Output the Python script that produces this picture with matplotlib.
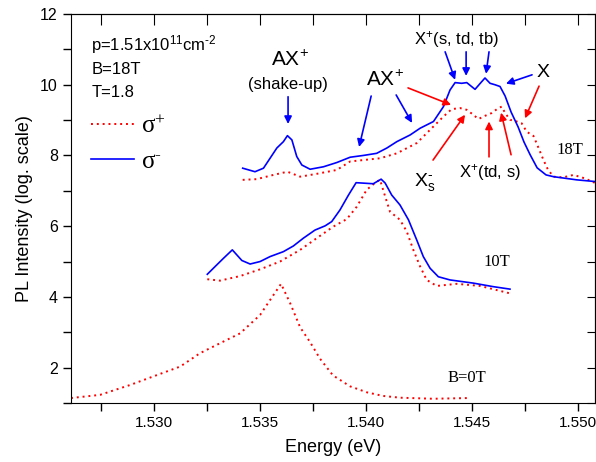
import numpy as np
import matplotlib
matplotlib.use('Agg')
import matplotlib.pyplot as plt
from matplotlib.ticker import MultipleLocator, FormatStrFormatter

plt.rcParams['font.family'] = ['Liberation Sans', 'DejaVu Sans']
plt.rcParams['mathtext.fontset'] = 'custom'
plt.rcParams['mathtext.rm'] = 'Liberation Sans'
plt.rcParams['mathtext.it'] = 'Liberation Sans'
plt.rcParams['mathtext.default'] = 'regular'

HY = '\u2010'  # short hyphen for superscripts

# B = 0 T, sigma+
b0_x = [1.52608, 1.52745, 1.52887, 1.53000, 1.53123, 1.53217, 1.53311, 1.53406,
        1.53500, 1.53547, 1.53599, 1.53642, 1.53689, 1.53736, 1.53783, 1.53844,
        1.53925, 1.54005, 1.54080, 1.54160, 1.54316, 1.54481]
b0_p = [1.14, 1.23, 1.51, 1.76, 2.03, 2.41, 2.69, 2.97,
        3.49, 3.91, 4.37, 3.82, 3.14, 2.72, 2.25, 1.78,
        1.47, 1.30, 1.20, 1.15, 1.12, 1.14]

# 10 T
b10_xm = [1.53251, 1.53288, 1.53327, 1.53369, 1.53390, 1.53414, 1.53453, 1.53500,
          1.53547, 1.53610, 1.53657, 1.53704, 1.53759, 1.53807, 1.53838, 1.53877,
          1.53917, 1.53953, 1.53980, 1.54034, 1.54071, 1.54090, 1.54121, 1.54160,
          1.54200, 1.54239, 1.54270, 1.54302, 1.54341, 1.54396, 1.54506, 1.54600,
          1.54679]
b10_m = [4.64, 4.86, 5.09, 5.33, 5.19, 5.03, 4.93, 5.00,
         5.14, 5.28, 5.44, 5.66, 5.89, 6.01, 6.13, 6.46,
         6.88, 7.23, 7.22, 7.20, 7.33, 7.22, 6.88, 6.60,
         6.18, 5.61, 5.14, 4.81, 4.57, 4.48, 4.39, 4.29,
         4.22]
b10_xp = [1.53251, 1.53311, 1.53406, 1.53500, 1.53594, 1.53689, 1.53767, 1.53846,
          1.53909, 1.53956, 1.54003, 1.54050, 1.54066, 1.54090, 1.54113, 1.54160,
          1.54192, 1.54223, 1.54255, 1.54286, 1.54333, 1.54428, 1.54538, 1.54679]
b10_p = [4.50, 4.46, 4.59, 4.78, 5.00, 5.33, 5.66, 5.99,
         6.20, 6.55, 7.03, 7.26, 7.31, 6.84, 6.41, 6.18,
         5.85, 5.33, 4.86, 4.48, 4.31, 4.37, 4.31, 4.10]

# 18 T
b18_xm = [1.53418, 1.53476, 1.53516, 1.53547, 1.53579, 1.53610, 1.53629, 1.53650,
          1.53673, 1.53697, 1.53736, 1.53799, 1.53862, 1.53925, 1.53987, 1.54050,
          1.54098, 1.54145, 1.54208, 1.54255, 1.54318, 1.54365, 1.54396, 1.54420,
          1.54451, 1.54475, 1.54514, 1.54546, 1.54561, 1.54585, 1.54608, 1.54632,
          1.54656, 1.54684, 1.54717, 1.54745, 1.54774, 1.54807, 1.54849, 1.54884,
          1.54994, 1.55085]
b18_m = [7.64, 7.54, 7.64, 7.92, 8.21, 8.39, 8.56, 8.44,
         7.97, 7.73, 7.61, 7.68, 7.80, 7.95, 8.00, 8.06,
         8.21, 8.39, 8.58, 8.77, 8.96, 9.38, 9.85, 10.06,
         10.04, 10.06, 9.87, 10.09, 10.19, 10.04, 10.00, 9.95,
         9.68, 9.23, 8.81, 8.38, 8.02, 7.65, 7.45, 7.40,
         7.31, 7.26]
b18_xp = [1.53418, 1.53484, 1.53563, 1.53629, 1.53689, 1.53767, 1.53862, 1.53925,
          1.53987, 1.54066, 1.54145, 1.54239, 1.54318, 1.54365, 1.54404, 1.54443,
          1.54475, 1.54506, 1.54530, 1.54561, 1.54593, 1.54624, 1.54640, 1.54656,
          1.54679, 1.54711, 1.54734, 1.54758, 1.54790, 1.54811, 1.54837, 1.54858,
          1.54884, 1.54929, 1.54979, 1.55033, 1.55085]
b18_p = [7.31, 7.33, 7.45, 7.54, 7.40, 7.48, 7.59, 7.83,
         7.87, 7.92, 8.06, 8.35, 8.82, 9.10, 9.31, 9.34,
         9.29, 9.15, 9.03, 9.12, 9.20, 9.34, 9.38, 9.20,
         9.01, 8.96, 8.91, 8.67, 8.55, 8.25, 7.87, 7.60,
         7.40, 7.38, 7.45, 7.35, 7.21]

red = '#ff0000'
blue = '#0000ff'

fig = plt.figure(figsize=(5.96, 4.62), dpi=100)
ax = fig.add_axes([71 / 596, 59 / 462, 524 / 596, 389 / 462])

dot = dict(color=red, linestyle=(0, (1, 2)), linewidth=1.4)
sol = dict(color=blue, linestyle='-', linewidth=1.2)

ax.plot(b0_x, b0_p, **dot)
ax.plot(b10_xp, b10_p, **dot)
ax.plot(b10_xm, b10_m, **sol)
lp, = ax.plot(b18_xp, b18_p, **dot)
lm, = ax.plot(b18_xm, b18_m, **sol)

ax.set_xlim(1.52608, 1.5508)
ax.set_ylim(1, 12)
ax.xaxis.set_major_locator(MultipleLocator(0.005))
ax.xaxis.set_minor_locator(MultipleLocator(0.0025))
ax.yaxis.set_major_locator(MultipleLocator(2))
ax.yaxis.set_minor_locator(MultipleLocator(1))
ax.xaxis.set_major_formatter(FormatStrFormatter('%.3f'))
ax.tick_params(which='both', direction='out', length=6, width=1, labelsize=11.5,
               top=False, right=False)
ax.tick_params(axis='x', labelsize=11)
ax2 = ax.secondary_xaxis('top')
ax2.xaxis.set_major_locator(MultipleLocator(0.0025))
ax2.tick_params(direction='in', length=8, labeltop=False)
ax3 = ax.secondary_yaxis('right')
ax3.yaxis.set_major_locator(MultipleLocator(1))
ax3.tick_params(direction='in', length=6, labelright=False)

ax.set_xlabel('Energy (eV)', fontsize=13, labelpad=6)
ax.set_ylabel('PL Intensity (log. scale)', fontsize=13, labelpad=5)

# sample info
ax.text(1.52703, 11.13, 'p=1.51x10$^{11}$cm$^{' + HY + '2}$', fontsize=12, va='center')
ax.text(1.52703, 10.42, 'B=18T', fontsize=12, va='center')
ax.text(1.52703, 9.77, 'T=1.8', fontsize=12, va='center')

leg = ax.legend([lp, lm], ['σ$^{+}$', 'σ$^{' + HY + '}$'], loc='upper left',
                bbox_to_anchor=(20 / 524, 288 / 389), frameon=False,
                handlelength=1.7, handletextpad=0.3, labelspacing=0.5,
                borderpad=0, borderaxespad=0,
                prop={'family': 'Liberation Serif', 'size': 18})

# labels
ax.text(1.53642, 10.70, 'AX$^{+}$', fontsize=15, ha='center', va='center')
ax.text(1.53632, 10.0, '(shake-up)', fontsize=12, ha='center', va='center')
ax.text(1.54090, 10.14, 'AX$^{+}$', fontsize=15, ha='center', va='center')
ax.text(1.54425, 11.27, 'X$^{+}$(s, td, tb)', fontsize=12, ha='center', va='center')
ax.text(1.54835, 10.34, 'X', fontsize=14, ha='center', va='center')
ax.text(1.54278, 7.25, 'X$_{s}^{' + HY + '}$', fontsize=14, ha='center', va='center')
ax.text(1.54585, 7.53, 'X$^{+}$(td, s)', fontsize=12, ha='center', va='center')
for txt, x, y in [('18T', 1.54962, 8.16), ('10T', 1.54618, 4.99), ('B=0T', 1.54476, 1.71)]:
    ax.text(x, y, txt, fontsize=12, ha='center', va='center', family='Liberation Serif')

arrows = [
    (blue, (1.53632, 9.66), (1.53632, 8.89)),
    (blue, (1.54024, 9.68), (1.53967, 8.24)),
    (blue, (1.54142, 9.71), (1.54217, 8.92)),
    (blue, (1.54373, 10.93), (1.54420, 10.14)),
    (blue, (1.54472, 10.93), (1.54472, 10.25)),
    (blue, (1.54580, 10.93), (1.54566, 10.31)),
    (blue, (1.54783, 10.28), (1.54660, 10.03)),
    (red, (1.54198, 9.91), (1.54401, 9.43)),
    (red, (1.54816, 9.96), (1.54750, 9.05)),
    (red, (1.54316, 7.87), (1.54467, 9.15)),
    (red, (1.54580, 7.96), (1.54580, 8.96)),
    (red, (1.54684, 8.02), (1.54637, 9.21)),
]
for c, tail, head in arrows:
    ax.annotate('', xy=head, xytext=tail,
                arrowprops=dict(arrowstyle='-|>', color=c, lw=1.2,
                                mutation_scale=11, shrinkA=0, shrinkB=0))

fig.savefig('out.png', dpi=100)
